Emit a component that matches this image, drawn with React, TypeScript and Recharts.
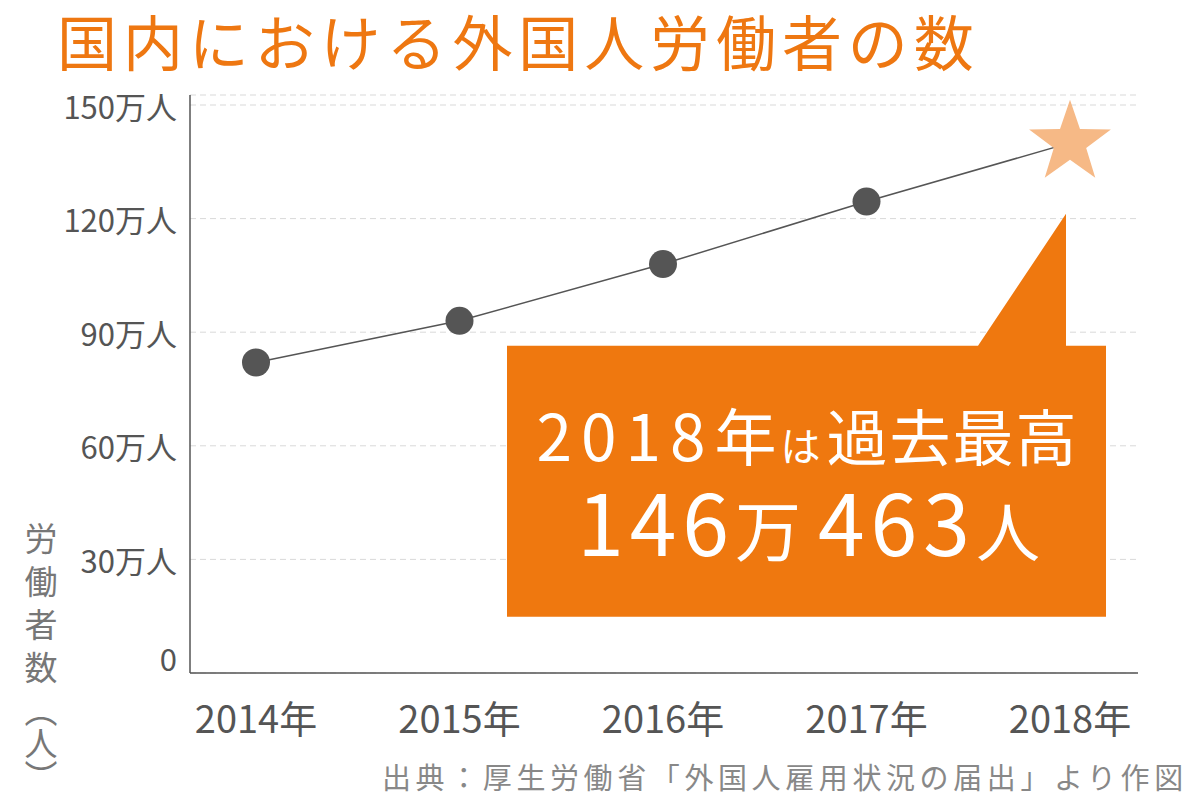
import React from 'react'
import { LineChart, Line, XAxis, YAxis, CartesianGrid } from 'recharts'

const FONT = '"Noto Sans CJK JP", "Noto Sans", sans-serif'

// 外国人労働者数（万人）: values
const years = ['2014年', '2015年', '2016年', '2017年', '2018年']
const workers = [82, 93, 108, 124.5, 140]

const yTicks = [0, 30, 60, 90, 120, 150]
const yTickLabels = ['0', '30万人', '60万人', '90万人', '120万人', '150万人']

const title = '国内における外国人労働者の数'
const yLabelMain = '労働者数'
const yLabelUnit = '（人）'
const source = '出典：厚生労働省「外国人雇用状況の届出」より作図'
const calloutYear = '2018'
const calloutLine1 = ['年', 'は', '過去最高']
const calloutMan = '146'
const calloutRest = '463'

const data = years.map((year, i) => ({ year, value: workers[i] }))

function starPoints(cx: number, cy: number, R: number, r: number) {
  const pts: string[] = []
  for (let i = 0; i < 10; i++) {
    const a = -Math.PI / 2 + (i * Math.PI) / 5
    const rad = i % 2 === 0 ? R : r
    pts.push(`${cx + rad * Math.cos(a)},${cy + rad * Math.sin(a)}`)
  }
  return pts.join(' ')
}

// star + speech-bubble for the latest year, placed relative to its point
function Highlight({ cx, cy }: { cx: number; cy: number }) {
  const left = cx - 563
  const right = cx + 36
  const top = cy + 203
  const bottom = cy + 474
  const tipX = cx - 4
  const tipY = cy + 71
  const baseL = cx - 92
  const bubble = `M${left},${top} L${baseL},${top} L${tipX},${tipY} L${tipX},${top} L${right},${top} L${right},${bottom} L${left},${bottom} Z`
  const mid = (left + right) / 2
  return (
    <g>
      <path d={bubble} fill="#EF780F" />
      <text x={mid + 1} y={cy + 318} textAnchor="middle" fill="#fff" fontFamily={FONT}>
        <tspan fontSize={64} letterSpacing={9}>{calloutYear}</tspan>
        <tspan fontSize={62} letterSpacing={4}>{calloutLine1[0]}</tspan>
        <tspan fontSize={40} letterSpacing={6}>{calloutLine1[1]}</tspan>
        <tspan fontSize={61} letterSpacing={2}>{calloutLine1[2]}</tspan>
      </text>
      <text x={mid + 2} y={cy + 413} textAnchor="middle" fill="#fff" fontFamily={FONT}>
        <tspan fontSize={84} letterSpacing={6}>{calloutMan}</tspan>
        <tspan fontSize={66} letterSpacing={17}>万</tspan>
        <tspan fontSize={84} letterSpacing={6}>{calloutRest}</tspan>
        <tspan fontSize={64}>人</tspan>
      </text>
      <polygon points={starPoints(cx, cy, 43, 17)} fill="#F6B986" />
    </g>
  )
}

function renderDot(props: any) {
  const { cx, cy, index } = props
  if (cx == null || cy == null) return <g key={`dot-${index}`} />
  if (index === data.length - 1) {
    return <Highlight key={`dot-${index}`} cx={cx} cy={cy} />
  }
  return <circle key={`dot-${index}`} cx={cx} cy={cy} r={14} fill="#555" />
}

function YTick(props: any) {
  const { x, y, payload } = props
  const label = yTickLabels[yTicks.indexOf(payload.value)]
  return (
    <text
      x={x}
      y={payload.value === 0 ? y - 16 : y}
      textAnchor="end"
      dominantBaseline="central"
      fontSize={31}
      fill="#555"
      fontFamily={FONT}
    >
      {label}
    </text>
  )
}

function XTick(props: any) {
  const { x, y, payload } = props
  return (
    <text x={x} y={y + 60} textAnchor="middle" fontSize={38} fill="#555" fontFamily={FONT}>
      {payload.value}
    </text>
  )
}

export default function App() {
  return (
    <div style={{ position: 'absolute', left: 0, top: 0, width: 1200, height: 800, background: '#fff', overflow: 'hidden' }}>
      <div style={{ position: 'absolute', left: 0, top: 0 }}>
        <LineChart width={1200} height={800} data={data} margin={{ top: 95, right: 62, bottom: 67, left: 70 }}>
          <CartesianGrid vertical={false} stroke="#d9d9d9" strokeDasharray="6 4" />
          <XAxis
            dataKey="year"
            padding={{ left: 66, right: 68 }}
            height={60}
            interval={0}
            tickLine={false}
            tickSize={0}
            tickMargin={0}
            axisLine={{ stroke: '#555', strokeWidth: 1.5 }}
            tick={<XTick />}
          />
          <YAxis
            type="number"
            domain={[0, 150]}
            ticks={yTicks}
            interval={0}
            width={120}
            padding={{ top: 10, bottom: 0 }}
            tickLine={false}
            tickSize={0}
            tickMargin={13}
            axisLine={{ stroke: '#555', strokeWidth: 1.5 }}
            tick={<YTick />}
          />
          <Line
            type="linear"
            dataKey="value"
            stroke="#555"
            strokeWidth={1.5}
            dot={renderDot}
            activeDot={false}
            isAnimationActive={false}
          />
        </LineChart>
      </div>

      <div
        style={{
          position: 'absolute',
          left: 57,
          top: 10,
          fontFamily: FONT,
          fontSize: 60,
          lineHeight: '60px',
          letterSpacing: 5.9,
          color: '#EE7711',
          whiteSpace: 'nowrap',
        }}
      >
        {title}
      </div>

      <svg width={1200} height={800} style={{ position: 'absolute', left: 0, top: 0, pointerEvents: 'none' }}>
        <text x={382} y={789} fontSize={29} letterSpacing={4.6} fill="#888" fontFamily={FONT}>
          {source}
        </text>
      </svg>

      <div
        style={{
          position: 'absolute',
          left: 24,
          top: 522,
          writingMode: 'vertical-rl',
          fontFamily: FONT,
          fontSize: 33,
          lineHeight: '33px',
          color: '#777',
          whiteSpace: 'nowrap',
        }}
      >
        <span style={{ letterSpacing: 10 }}>{yLabelMain}</span>
        <span style={{ letterSpacing: 0 }}>{yLabelUnit}</span>
      </div>
    </div>
  )
}
